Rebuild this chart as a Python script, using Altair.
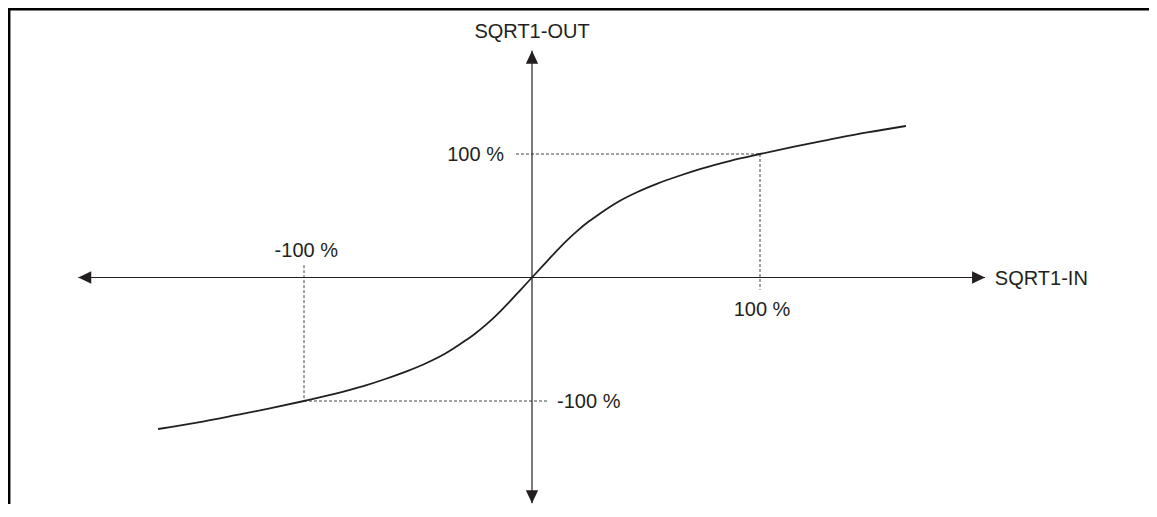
import altair as alt
import pandas as pd

# ---- data (values in percent) ----
curve_x = [-164, -147, -130, -115, -100, -87, -74, -64, -55, -46, -38, -30, -25, -20, -15, -10, -5,
           0, 5, 10, 15, 20, 25, 30, 38, 46, 55, 64, 74, 87, 100, 115, 130, 147, 164]
curve_y = [-122.7, -117.5, -111.5, -106, -100, -94.5, -88, -82, -76, -69, -61.5, -52, -45.5, -38, -29.5, -20, -10,
           0, 10, 20, 29.5, 38, 45.5, 52, 61.5, 69, 76, 82, 88, 94.5, 100, 106, 111.5, 117.5, 122.7]

axis_x_ends = [-199, 198.7]
axis_y_ends = [-182.8, 183.6]

guide_x1 = [-7, 100, -100, -100]
guide_x2 = [100, 100, -100, 6.6]
guide_y1 = [100, 100, 10, -100]
guide_y2 = [100, -10, -100, -100]

label_text = ["SQRT1-OUT", "SQRT1-IN", "100 %", "100 %", "-100 %", "-100 %"]
label_x = [0, 203, -12.3, 100.9, -99, 11]
label_y = [199, -1.2, 99.5, -26.5, 21.5, -100.5]
label_align = ["center", "left", "right", "center", "center", "left"]

# ---- layout ----
W, H = 1141, 496
x0_px, y0_px = 524, 269.5
sx, sy = 2.28, 1.235
xs = alt.Scale(domain=[-x0_px / sx, (W - x0_px) / sx], nice=False, zero=False)
ys = alt.Scale(domain=[-(H - y0_px) / sy, y0_px / sy], nice=False, zero=False)
INK = "#231f20"
FONT = "Liberation Sans"

def X(f="x"):
    return alt.X(f"{f}:Q", scale=xs, axis=None)

def Y(f="y"):
    return alt.Y(f"{f}:Q", scale=ys, axis=None)

curve_df = pd.DataFrame({"x": curve_x, "y": curve_y, "o": range(len(curve_x))})
guides_df = pd.DataFrame({"x": guide_x1, "x2": guide_x2, "y": guide_y1, "y2": guide_y2})
axes_df = pd.DataFrame({
    "x": [axis_x_ends[0], 0], "x2": [axis_x_ends[1], 0],
    "y": [0, axis_y_ends[0]], "y2": [0, axis_y_ends[1]],
})
arrows_df = pd.DataFrame({
    "x": [axis_x_ends[0], axis_x_ends[1], 0, 0],
    "y": [0, 0, axis_y_ends[1], axis_y_ends[0]],
    "dir": ["left", "right", "up", "down"],
})
labels_df = pd.DataFrame({"t": label_text, "x": label_x, "y": label_y, "a": label_align})

frame_top = alt.Chart(pd.DataFrame({"k": [0]})).mark_rule(color="black", strokeWidth=2.5).encode(
    x=alt.value(0), x2=alt.value(W), y=alt.value(1.2))
frame_left = alt.Chart(pd.DataFrame({"k": [0]})).mark_rule(color="black", strokeWidth=2.5).encode(
    x=alt.value(1.2), y=alt.value(0), y2=alt.value(H))

guides = alt.Chart(guides_df).mark_rule(color="#444444", strokeWidth=1, strokeDash=[3, 2]).encode(
    x=X(), x2="x2:Q", y=Y(), y2="y2:Q")

axes = alt.Chart(axes_df).mark_rule(color=INK, strokeWidth=1.2).encode(
    x=X(), x2="x2:Q", y=Y(), y2="y2:Q")

shapes = {
    "left": "M0,0 L2,-0.95 L2,0.95 Z",
    "right": "M0,0 L-2,-0.95 L-2,0.95 Z",
    "up": "M0,0 L-0.95,2 L0.95,2 Z",
    "down": "M0,0 L-0.95,-2 L0.95,-2 Z",
}
arrow_layers = []
for d, path in shapes.items():
    arrow_layers.append(
        alt.Chart(arrows_df[arrows_df["dir"] == d]).mark_point(
            shape=path, size=169, filled=True, color=INK, opacity=1, strokeWidth=0
        ).encode(x=X(), y=Y())
    )

curve = alt.Chart(curve_df).mark_line(color=INK, strokeWidth=1.8, interpolate="monotone").encode(
    x=X(), y=Y(), order="o:Q")

text_layers = []
for al in ["left", "center", "right"]:
    sub = labels_df[labels_df["a"] == al]
    text_layers.append(
        alt.Chart(sub).mark_text(align=al, baseline="middle", font=FONT, fontSize=20, color=INK).encode(
            x=X(), y=Y(), text="t:N")
    )

chart = alt.layer(frame_top, frame_left, guides, axes, *arrow_layers, curve, *text_layers).properties(
    width=W, height=H, autosize=alt.AutoSizeParams(type="none"), padding=0
).configure_view(stroke=None)

chart.save("out.html", embed_options={"renderer": "svg", "actions": False})
